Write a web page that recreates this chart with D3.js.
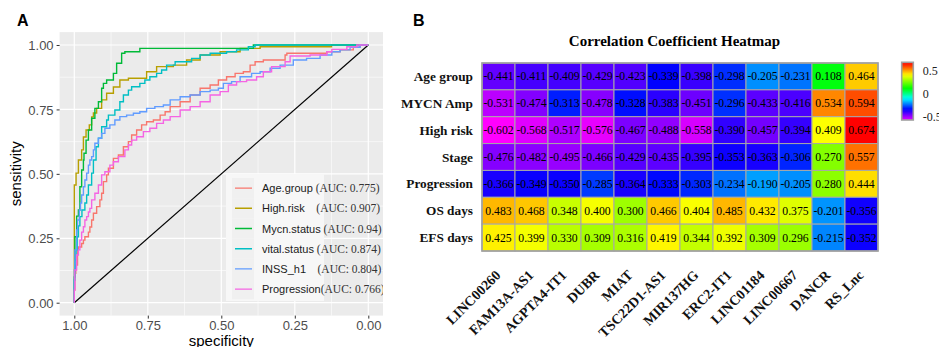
<!DOCTYPE html>
<html>
<head>
<meta charset="utf-8">
<script src="https://cdn.jsdelivr.net/npm/d3@7"></script>
<style>
  body { margin: 0; background: #fff; }
  svg { display: block; }
</style>
</head>
<body>
<div id="chart"></div>
<script>
// ---- panel A : ROC curves, points as [specificity, sensitivity]
const ageGroup = [[1,0],[0.998,0.049],[0.995,0.114],[0.989,0.146],[0.986,0.205],[0.975,0.216],[0.969,0.230],[0.964,0.243],[0.952,0.256],[0.947,0.274],[0.941,0.294],[0.935,0.321],[0.924,0.347],[0.913,0.373],[0.907,0.399],[0.901,0.425],[0.890,0.470],[0.884,0.496],[0.867,0.522],[0.850,0.560],[0.833,0.573],[0.816,0.605],[0.805,0.625],[0.788,0.651],[0.771,0.670],[0.754,0.690],[0.731,0.702],[0.708,0.709],[0.691,0.728],[0.674,0.741],[0.640,0.761],[0.606,0.780],[0.572,0.806],[0.538,0.832],[0.510,0.845],[0.482,0.864],[0.453,0.877],[0.425,0.890],[0.402,0.896],[0.385,0.922],[0.357,0.935],[0.283,0.942],[0.277,0.961],[0.141,0.968],[0.096,0.974],[0.051,0.981],[0.028,0.991],[0,1]];
const highRisk = [[1,0],[1,0.366],[0.994,0.457],[0.986,0.503],[0.975,0.554],[0.969,0.593],[0.960,0.643],[0.949,0.670],[0.941,0.690],[0.935,0.721],[0.924,0.736],[0.907,0.754],[0.890,0.787],[0.867,0.813],[0.845,0.837],[0.816,0.864],[0.754,0.871],[0.720,0.896],[0.663,0.916],[0.618,0.922],[0.572,0.942],[0.504,0.961],[0.436,0.974],[0.368,0.987],[0.255,0.993],[0.125,0.993],[0.028,1],[0,1]];
const mycnStatus = [[1,0],[0.998,0.10],[0.992,0.256],[0.986,0.336],[0.981,0.360],[0.975,0.450],[0.969,0.515],[0.967,0.554],[0.960,0.580],[0.952,0.631],[0.941,0.670],[0.930,0.716],[0.918,0.754],[0.907,0.780],[0.901,0.832],[0.890,0.851],[0.867,0.864],[0.856,0.890],[0.839,0.929],[0.828,0.968],[0.777,0.974],[0.726,0.987],[0.391,0.987],[0.391,1],[0,1]];
const vitalStatus = [[1,0],[0.998,0.088],[0.994,0.166],[0.990,0.205],[0.986,0.256],[0.981,0.298],[0.974,0.334],[0.964,0.360],[0.958,0.387],[0.952,0.418],[0.941,0.457],[0.935,0.503],[0.926,0.554],[0.918,0.605],[0.907,0.638],[0.890,0.683],[0.884,0.709],[0.862,0.728],[0.845,0.748],[0.833,0.780],[0.816,0.806],[0.805,0.825],[0.777,0.838],[0.760,0.851],[0.743,0.864],[0.720,0.877],[0.703,0.890],[0.686,0.903],[0.657,0.922],[0.601,0.935],[0.572,0.948],[0.538,0.961],[0.482,0.968],[0.448,0.974],[0.408,0.981],[0.385,0.993],[0.334,1],[0,1]];
const inssH1 = [[1,0],[0.998,0.127],[0.992,0.205],[0.989,0.282],[0.983,0.321],[0.979,0.360],[0.975,0.387],[0.969,0.418],[0.964,0.450],[0.958,0.476],[0.952,0.503],[0.947,0.534],[0.941,0.554],[0.935,0.567],[0.930,0.593],[0.918,0.619],[0.907,0.638],[0.896,0.657],[0.879,0.677],[0.862,0.690],[0.845,0.709],[0.822,0.722],[0.799,0.728],[0.777,0.735],[0.754,0.741],[0.726,0.754],[0.697,0.761],[0.674,0.767],[0.640,0.787],[0.606,0.799],[0.572,0.806],[0.538,0.819],[0.510,0.825],[0.493,0.832],[0.465,0.851],[0.436,0.858],[0.397,0.877],[0.368,0.890],[0.334,0.896],[0.300,0.910],[0.255,0.922],[0.210,0.942],[0.164,0.948],[0.124,0.961],[0.096,0.974],[0.062,0.981],[0.028,0.991],[0,1]];
const progression = [[1,0],[0.998,0.049],[0.992,0.127],[0.986,0.185],[0.981,0.205],[0.975,0.243],[0.969,0.274],[0.964,0.295],[0.958,0.321],[0.952,0.334],[0.947,0.352],[0.941,0.366],[0.930,0.399],[0.918,0.425],[0.907,0.457],[0.896,0.496],[0.879,0.508],[0.867,0.534],[0.850,0.547],[0.828,0.567],[0.816,0.593],[0.805,0.612],[0.788,0.631],[0.765,0.644],[0.743,0.664],[0.720,0.677],[0.697,0.696],[0.674,0.709],[0.640,0.722],[0.606,0.748],[0.572,0.761],[0.538,0.780],[0.504,0.806],[0.476,0.819],[0.448,0.845],[0.414,0.858],[0.380,0.864],[0.357,0.877],[0.329,0.896],[0.283,0.916],[0.266,0.935],[0.198,0.957],[0.141,0.961],[0.124,0.974],[0.073,0.983],[0.039,0.993],[0,1]];

const rocSeries = [ageGroup, highRisk, mycnStatus, vitalStatus, inssH1, progression];
const rocNames = ["Age.group", "High.risk", "Mycn.status", "vital.status", "INSS_h1", "Progression"];
const aucLabels = [" (AUC: 0.775)", "    (AUC: 0.907)", " (AUC: 0.94)", " (AUC: 0.874)", "    (AUC: 0.804)", "(AUC: 0.766)"];
const rocColors = ["#F8766D", "#B79F00", "#00BA38", "#00BFC4", "#619CFF", "#F564E3"];
const axisTicks = [0, 0.25, 0.5, 0.75, 1];
const minorTicks = [0.125, 0.375, 0.625, 0.875];

// ---- panel B : correlation heatmap
const rowNames = ["Age group", "MYCN Amp", "High risk", "Stage", "Progression", "OS days", "EFS days"];
const colNames = ["LINC00260", "FAM13A-AS1", "AGPTA4-IT1", "DUBR", "MIAT", "TSC22D1-AS1", "MIR137HG", "ERC2-IT1", "LINC01184", "LINC00667", "DANCR", "RS_Lnc"];
const ageRow   = [-0.441, -0.411, -0.409, -0.429, -0.423, -0.339, -0.398, -0.298, -0.205, -0.231, 0.108, 0.464];
const mycnRow  = [-0.531, -0.474, -0.313, -0.478, -0.328, -0.383, -0.451, -0.296, -0.433, -0.416, 0.534, 0.594];
const riskRow  = [-0.602, -0.568, -0.517, -0.576, -0.467, -0.488, -0.558, -0.390, -0.457, -0.394, 0.409, 0.674];
const stageRow = [-0.476, -0.482, -0.495, -0.466, -0.429, -0.435, -0.395, -0.353, -0.363, -0.306, 0.270, 0.557];
const progRow  = [-0.366, -0.349, -0.350, -0.285, -0.364, -0.333, -0.303, -0.234, -0.190, -0.205, 0.280, 0.444];
const osRow    = [0.483, 0.468, 0.348, 0.400, 0.300, 0.466, 0.404, 0.485, 0.432, 0.375, -0.201, -0.356];
const efsRow   = [0.425, 0.399, 0.330, 0.309, 0.316, 0.419, 0.344, 0.392, 0.309, 0.296, -0.215, -0.352];
const corrRows = [ageRow, mycnRow, riskRow, stageRow, progRow, osRow, efsRow];
const barTicks = [0.5, 0, -0.5];

const SANS = "'Liberation Sans', Arial, sans-serif";
const SERIF = "'Liberation Serif', 'Times New Roman', serif";

const svg = d3.select("#chart").append("svg")
    .attr("width", 939)
    .attr("height", 347);

// ================= panel A =================
const x = d3.scaleLinear().domain([1.05, -0.05]).range([59.6, 383]);
const y = d3.scaleLinear().domain([-0.05, 1.05]).range([315.6, 32.1]);

const gA = svg.append("g");

gA.append("rect")
    .attr("x", x(1.05)).attr("y", y(1.05))
    .attr("width", x(-0.05) - x(1.05))
    .attr("height", y(-0.05) - y(1.05))
    .attr("fill", "#EBEBEB");

// grid
gA.selectAll(".vminor").data(minorTicks).join("line")
    .attr("x1", d => x(d)).attr("x2", d => x(d))
    .attr("y1", y(1.05)).attr("y2", y(-0.05))
    .attr("stroke", "#fff").attr("stroke-width", 0.6);
gA.selectAll(".hminor").data(minorTicks).join("line")
    .attr("y1", d => y(d)).attr("y2", d => y(d))
    .attr("x1", x(1.05)).attr("x2", x(-0.05))
    .attr("stroke", "#fff").attr("stroke-width", 0.6);
gA.selectAll(".vmajor").data(axisTicks).join("line")
    .attr("x1", d => x(d)).attr("x2", d => x(d))
    .attr("y1", y(1.05)).attr("y2", y(-0.05))
    .attr("stroke", "#fff").attr("stroke-width", 1.2);
gA.selectAll(".hmajor").data(axisTicks).join("line")
    .attr("y1", d => y(d)).attr("y2", d => y(d))
    .attr("x1", x(1.05)).attr("x2", x(-0.05))
    .attr("stroke", "#fff").attr("stroke-width", 1.2);

svg.append("clipPath").attr("id", "clipA")
  .append("rect")
    .attr("x", x(1.05)).attr("y", y(1.05))
    .attr("width", x(-0.05) - x(1.05))
    .attr("height", y(-0.05) - y(1.05));

const plotA = gA.append("g").attr("clip-path", "url(#clipA)");

// diagonal reference
plotA.append("line")
    .attr("x1", x(1)).attr("y1", y(0))
    .attr("x2", x(0)).attr("y2", y(1))
    .attr("stroke", "#000").attr("stroke-width", 1.2);

const roc = d3.line()
    .x(d => x(d[0]))
    .y(d => y(d[1]))
    .curve(d3.curveStepBefore);

rocSeries.forEach((s, i) => {
  plotA.append("path")
      .attr("d", roc(s))
      .attr("fill", "none")
      .attr("stroke", rocColors[i])
      .attr("stroke-width", 1.4);
});

// legend
const legX = 226, legY = 174, rowH = 20.2;
plotA.append("rect")
    .attr("x", legX).attr("y", legY)
    .attr("width", 98).attr("height", 127)
    .attr("fill", "#F7F7F7");
rocNames.forEach((name, i) => {
  const ky = legY + 4 + i * rowH;
  plotA.append("rect")
      .attr("x", legX + 6).attr("y", ky)
      .attr("width", 22).attr("height", rowH)
      .attr("fill", "#F0F0F0");
  plotA.append("line")
      .attr("x1", legX + 9).attr("x2", legX + 26)
      .attr("y1", ky + rowH / 2).attr("y2", ky + rowH / 2)
      .attr("stroke", rocColors[i]).attr("stroke-width", 1.4);
  const t = plotA.append("text")
      .attr("x", 262).attr("y", ky + rowH / 2 + 4)
      .style("white-space", "pre");
  t.append("tspan")
      .attr("font-family", SANS).attr("font-size", 11).attr("fill", "#1a1a1a")
      .text(name);
  t.append("tspan")
      .attr("font-family", SERIF).attr("font-size", 11.5).attr("fill", "#333")
      .text(aucLabels[i]);
});

// axes
const fmt2 = d3.format(".2f");
const xAxis = gA.append("g")
    .attr("transform", `translate(0,${y(-0.05)})`)
    .call(d3.axisBottom(x).tickValues(axisTicks).tickFormat(fmt2).tickSize(3).tickPadding(2));
const yAxis = gA.append("g")
    .attr("transform", `translate(${x(1.05)},0)`)
    .call(d3.axisLeft(y).tickValues(axisTicks).tickFormat(fmt2).tickSize(3).tickPadding(3));
[xAxis, yAxis].forEach(a => {
  a.select(".domain").remove();
  a.selectAll(".tick line").attr("stroke", "#333");
  a.selectAll(".tick text")
      .attr("font-family", SANS).attr("font-size", 13).attr("fill", "#4D4D4D");
});
yAxis.selectAll(".tick text").attr("dy", "0.36em");

gA.append("text")
    .attr("x", (x(1.05) + x(-0.05)) / 2).attr("y", 346)
    .attr("text-anchor", "middle")
    .attr("font-family", SANS).attr("font-size", 15)
    .text("specificity");
gA.append("text")
    .attr("transform", `translate(21,${(y(1.05) + y(-0.05)) / 2}) rotate(-90)`)
    .attr("text-anchor", "middle")
    .attr("font-family", SANS).attr("font-size", 15)
    .text("sensitivity");
gA.append("text")
    .attr("x", 17).attr("y", 26)
    .attr("font-family", SANS).attr("font-size", 16).attr("font-weight", "bold")
    .text("A");

// ================= panel B =================
const gB = svg.append("g");
const gridL = 482, gridR = 878, gridT = 63, gridB = 251;
const bx = d3.scaleBand().domain(colNames).range([gridL, gridR]);
const by = d3.scaleBand().domain(rowNames).range([gridT, gridB]);
const heat = d3.scaleLinear()
    .domain([-0.6, -0.34, -0.1, 0.12, 0.41, 0.674])
    .range(["#ff00ff", "#0000ff", "#00ffff", "#00ff00", "#ffff00", "#ff0000"])
    .clamp(true);
const fmt3 = d3.formatLocale({ decimal: ".", thousands: ",", grouping: [3], currency: ["", ""], minus: "-" }).format(".3f");

gB.append("text")
    .attr("x", 413).attr("y", 26)
    .attr("font-family", SANS).attr("font-size", 16).attr("font-weight", "bold")
    .text("B");
gB.append("text")
    .attr("x", 674.5).attr("y", 45.5)
    .attr("text-anchor", "middle")
    .attr("font-family", SERIF).attr("font-size", 15).attr("font-weight", "bold")
    .text("Correlation Coefficient Heatmap");

const cells = [];
corrRows.forEach((row, r) => row.forEach((v, c) => cells.push({ row: rowNames[r], col: colNames[c], v })));

gB.selectAll(".cell").data(cells).join("rect")
    .attr("x", d => bx(d.col)).attr("y", d => by(d.row))
    .attr("width", bx.bandwidth()).attr("height", by.bandwidth())
    .attr("fill", d => heat(d.v))
    .attr("stroke", "#A8A8A8").attr("stroke-width", 1);
gB.append("rect")
    .attr("x", gridL).attr("y", gridT)
    .attr("width", gridR - gridL).attr("height", gridB - gridT)
    .attr("fill", "none").attr("stroke", "#A0A0A0").attr("stroke-width", 1.6);

gB.selectAll(".val").data(cells).join("text")
    .attr("x", d => bx(d.col) + bx.bandwidth() / 2)
    .attr("y", d => by(d.row) + by.bandwidth() / 2 + 4)
    .attr("text-anchor", "middle")
    .attr("font-family", SERIF).attr("font-size", 11.7).attr("fill", "#000")
    .text(d => fmt3(d.v));

gB.selectAll(".rowlab").data(rowNames).join("text")
    .attr("x", 473).attr("y", d => by(d) + by.bandwidth() / 2 + 4.5)
    .attr("text-anchor", "end")
    .attr("font-family", SERIF).attr("font-size", 13.3).attr("font-weight", "bold")
    .attr("fill", "#111")
    .text(d => d);

gB.selectAll(".collab").data(colNames).join("text")
    .attr("transform", d => `translate(${bx(d) + bx.bandwidth() / 2 + 3},276) rotate(-45)`)
    .attr("text-anchor", "end")
    .attr("font-family", SERIF).attr("font-size", 14).attr("font-weight", "bold")
    .attr("fill", "#111")
    .text(d => d);

// colour bar
const cb = d3.scaleLinear().domain([0.5, -0.5]).range([71, 116.7]);
const cbTop = 62.3, cbBot = 120;
const grad = svg.append("defs").append("linearGradient")
    .attr("id", "cbGrad").attr("x1", 0).attr("x2", 0).attr("y1", 0).attr("y2", 1);
d3.range(0, 1.0001, 0.05).forEach(t => {
  grad.append("stop")
      .attr("offset", t)
      .attr("stop-color", heat(cb.invert(cbTop + t * (cbBot - cbTop))));
});
gB.append("rect")
    .attr("x", 901.7).attr("y", cbTop)
    .attr("width", 11.6).attr("height", cbBot - cbTop)
    .attr("fill", "url(#cbGrad)")
    .attr("stroke", "#A0A0A0").attr("stroke-width", 1.6);
gB.selectAll(".cbl").data(barTicks).join("text")
    .attr("x", 922.7).attr("y", d => cb(d) + 4)
    .attr("font-family", SERIF).attr("font-size", 12).attr("fill", "#222")
    .text(d => d === 0 ? "0" : fmt3(d).replace(/0+$/, ""));
</script>
</body>
</html>
